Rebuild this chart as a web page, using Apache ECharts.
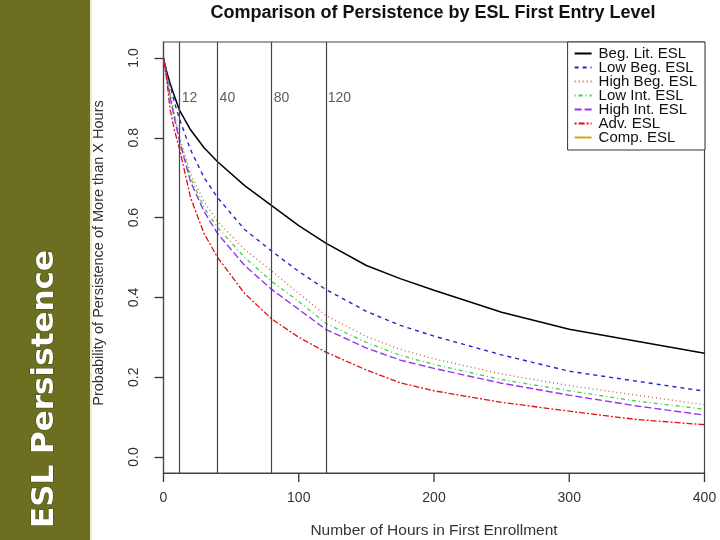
<!DOCTYPE html>
<html>
<head>
<meta charset="utf-8">
<script src="https://cdn.jsdelivr.net/npm/echarts@6/dist/echarts.min.js"></script>
<style>html,body{margin:0;padding:0;background:#fff}#c{width:720px;height:540px}</style>
</head>
<body>
<div id="c"></div>
<script>
// ---- data ----
var hours    = [0, 2, 5, 8, 12, 20, 30, 40, 60, 80, 100, 120, 150, 175, 200, 250, 300, 350, 400];
var begLit   = [1.0, 0.97, 0.935, 0.905, 0.868, 0.82, 0.775, 0.74, 0.68, 0.63, 0.58, 0.536, 0.48, 0.447, 0.418, 0.363, 0.32, 0.29, 0.26];
var lowBeg   = [1.0, 0.965, 0.93, 0.89, 0.845, 0.77, 0.70, 0.65, 0.57, 0.516, 0.465, 0.42, 0.365, 0.33, 0.303, 0.256, 0.215, 0.19, 0.165];
var highBeg  = [1.0, 0.96, 0.91, 0.86, 0.80, 0.71, 0.64, 0.59, 0.52, 0.466, 0.41, 0.355, 0.302, 0.27, 0.246, 0.208, 0.179, 0.155, 0.131];
var lowInt   = [1.0, 0.96, 0.905, 0.855, 0.795, 0.70, 0.625, 0.575, 0.50, 0.44, 0.39, 0.335, 0.287, 0.255, 0.232, 0.194, 0.166, 0.14, 0.12];
var highInt  = [1.0, 0.96, 0.90, 0.85, 0.79, 0.69, 0.615, 0.56, 0.48, 0.42, 0.37, 0.32, 0.273, 0.243, 0.222, 0.185, 0.155, 0.128, 0.105];
var adv      = [1.0, 0.955, 0.87, 0.82, 0.77, 0.65, 0.56, 0.50, 0.41, 0.346, 0.30, 0.263, 0.218, 0.186, 0.166, 0.137, 0.115, 0.094, 0.081];
var comp     = [];
var seriesNames = ['Beg. Lit. ESL', 'Low Beg. ESL', 'High Beg. ESL', 'Low Int. ESL', 'High Int. ESL', 'Adv. ESL', 'Comp. ESL'];
var cutHours = [12, 40, 80, 120];
var cutLabelLevel = 0.9;
var yTicks = [0, 0.2, 0.4, 0.6, 0.8, 1.0];
var xTicks = [0, 100, 200, 300, 400];

var allValues = [begLit, lowBeg, highBeg, lowInt, highInt, adv, comp];
var colors = ['#000000', '#2626c8', '#c0604a', '#3fd43f', '#9a35ee', '#e01010', '#d9a520'];
var dashes = ['solid', [4, 4], [1, 3], [1, 3, 4, 3], [7, 3], [2, 2, 6, 2], 'solid'];
var widths = [1.5, 1.4, 1.3, 1.3, 1.4, 1.3, 1.3];

var Y_MIN = -0.04, Y_MAX = 1.04;
var FONT = 'Liberation Sans, Arial, sans-serif';

function pairs(vals) {
  var out = [];
  for (var i = 0; i < vals.length; i++) out.push([hours[i], vals[i]]);
  return out;
}

var series = seriesNames.map(function (name, k) {
  return {
    name: name,
    type: 'line',
    data: pairs(allValues[k]),
    symbol: 'none',
    showSymbol: false,
    smooth: false,
    color: colors[k],
    lineStyle: { color: colors[k], width: widths[k], type: dashes[k] },
    z: 3
  };
});

series.push({
  name: 'cuts',
  type: 'scatter',
  data: cutHours.map(function (h) { return [h, cutLabelLevel]; }),
  symbolSize: 0,
  silent: true,
  label: {
    show: true, position: 'right', distance: 2,
    formatter: function (p) { return String(p.value[0]); },
    fontSize: 14, fontFamily: FONT, color: '#333'
  },
  markLine: {
    silent: true,
    symbol: 'none',
    label: { show: false },
    lineStyle: { color: '#444', width: 1.2, type: 'solid' },
    data: cutHours.map(function (h) { return { xAxis: h }; })
  },
  z: 2
});

// x-axis tick marks below the box, placed through the axis scale
series.push({
  name: 'xticks',
  type: 'custom',
  silent: true,
  clip: false,
  data: xTicks.map(function (v) { return [v, Y_MIN]; }),
  encode: { x: 0, y: 1 },
  renderItem: function (params, api) {
    var p = api.coord([api.value(0), api.value(1)]);
    return {
      type: 'line',
      shape: { x1: p[0], y1: p[1], x2: p[0], y2: p[1] + 9 },
      style: { stroke: '#333', lineWidth: 1.3 }
    };
  },
  z: 10
});

var chart = echarts.init(document.getElementById('c'), null, { renderer: 'canvas' });
chart.setOption({
  animation: false,
  backgroundColor: '#ffffff',
  grid: {
    left: 163.5, right: 15.5, top: 42, bottom: 67,
    show: true, borderColor: '#444', borderWidth: 1.2, backgroundColor: 'transparent'
  },
  xAxis: {
    type: 'value', min: 0, max: 400, interval: 100,
    axisLine: { show: true, onZero: false, lineStyle: { color: '#444', width: 1.2 } },
    axisTick: { show: false },
    axisLabel: { margin: 18, fontSize: 14, fontFamily: FONT, color: '#333' },
    splitLine: { show: false }
  },
  yAxis: {
    type: 'value', min: Y_MIN, max: Y_MAX,
    axisLine: { show: true, onZero: false, lineStyle: { color: '#444', width: 1.2 } },
    axisTick: { show: true, length: 9, lineStyle: { color: '#333', width: 1.3 }, customValues: yTicks },
    axisLabel: { show: true, rotate: 90, margin: 22, fontSize: 14, fontFamily: FONT, color: '#333',
      customValues: yTicks,
      formatter: function (v) { return v.toFixed(1); } },
    splitLine: { show: false }
  },
  legend: {
    data: seriesNames,
    orient: 'vertical',
    right: 15, top: 42,
    padding: [4, 8, 5, 6],
    itemWidth: 17, itemHeight: 14, itemGap: -1,
    borderColor: '#333', borderWidth: 1, borderRadius: 0,
    backgroundColor: '#fff',
    selectedMode: false,
    itemStyle: { opacity: 0 },
    textStyle: { fontSize: 15, fontFamily: FONT, color: '#111', lineHeight: 14, padding: [0, 0, 0, 2] }
  },
  graphic: [
    { type: 'rect', left: 0, top: 0, shape: { width: 90, height: 540 }, style: { fill: '#6b6f1f' }, silent: true },
    { type: 'rect', left: 90, top: 0, shape: { width: 2, height: 540 }, style: { fill: '#f3eccf' }, silent: true },
    { type: 'text', x: 45, y: 389, rotation: Math.PI / 2, silent: true,
      style: { text: 'ESL Persistence', fill: '#ffffff', font: 'bold 31px "DejaVu Sans", Verdana, sans-serif',
        align: 'center', verticalAlign: 'middle', stroke: 'rgba(40,40,10,0.6)', lineWidth: 1 } },
    { type: 'text', x: 433, y: 13, silent: true,
      style: { text: 'Comparison of Persistence by ESL First Entry Level', fill: '#111',
        font: 'bold 18px "Liberation Sans", Arial, sans-serif', align: 'center', verticalAlign: 'middle' } },
    { type: 'text', x: 434, y: 531, silent: true,
      style: { text: 'Number of Hours in First Enrollment', fill: '#333',
        font: '15.5px "Liberation Sans", Arial, sans-serif', align: 'center', verticalAlign: 'middle' } },
    { type: 'text', x: 99, y: 253, rotation: Math.PI / 2, silent: true,
      style: { text: 'Probability of Persistence of More than X Hours', fill: '#333',
        font: '14.5px "Liberation Sans", Arial, sans-serif', align: 'center', verticalAlign: 'middle' } }
  ],
  series: series
});
</script>
</body>
</html>
